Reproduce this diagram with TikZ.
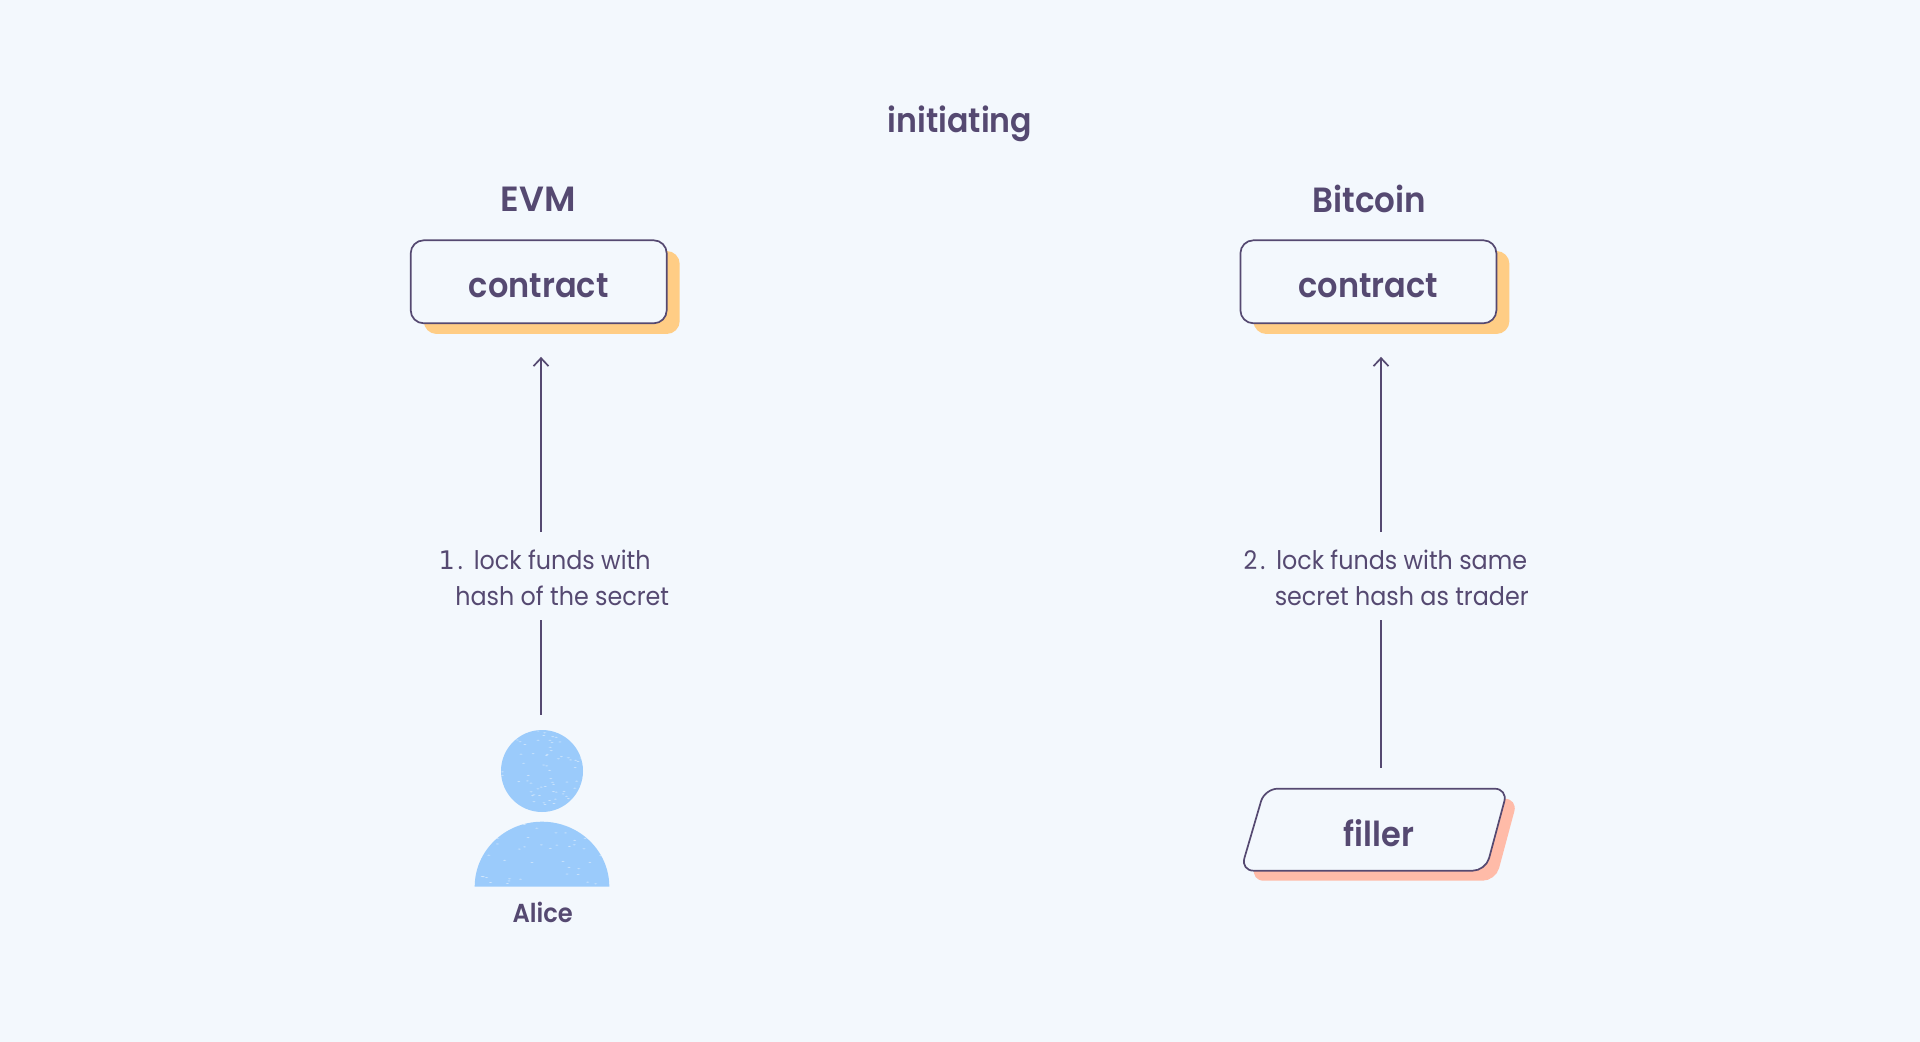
\documentclass[tikz,border=0pt]{standalone}
\usepackage{fontspec}
\setmainfont[FakeStretch=.93]{Poppins}
\newfontfamily\medfont[FakeStretch=.93]{Poppins Medium}
\newfontfamily\boldfont[FakeStretch=.93]{Poppins SemiBold}
\newfontfamily\widefont{Poppins SemiBold}
\newfontfamily\numfont{DejaVu Sans}
\usetikzlibrary{arrows.meta,calc,positioning}
\definecolor{paper}{HTML}{F3F8FD}
\definecolor{ink}{HTML}{554971}
\definecolor{peach}{HTML}{FFCD85}
\definecolor{salmon}{HTML}{FFBBA8}
\definecolor{sky}{HTML}{9BCBFB}
\newdimen\pxdim
\pxdim=.5pt
\tikzstyle{heading}=[
  text=ink,
  font={\fontsize{17.5}{22}\boldfont},
  inner sep=0pt,
]
\tikzstyle{element}=[
  draw=ink,
  fill=paper,
  text=ink,
  font={\fontsize{17.2}{22}\boldfont},
  inner sep=0pt,
  line width=.85pt,
  minimum height=83\pxdim,
  minimum width=256\pxdim,
  outer sep=0pt,
  rectangle,
  rounded corners=6.5pt,
  text height=15.4pt,
  text depth=0pt,
]
\tikzstyle{backing}=[
  fill=peach,
  inner sep=0pt,
  minimum height=83\pxdim,
  minimum width=256\pxdim,
  rectangle,
  rounded corners=6.5pt,
]
\tikzstyle{lockfunds}=[
  align=center,
  text=ink,
  font={\fontsize{12.8}{18}\selectfont},
  inner sep=0pt,
  minimum height=88\pxdim,
  outer sep=0pt,
]
\tikzstyle{arrow}=[
  draw=ink,
  line width=.85pt,
]
\tikzstyle{fleck}=[
  fill=paper,
  opacity=.55,
]
\newcommand{\skewbox}{
  (-109.3,-41) -- (133.7,-41) -- (111.7,41) -- (-133.3,41) -- cycle
}
\tikzset{
  x=\pxdim,
  y=-\pxdim,
  >={Straight Barb[length=4pt,width=7.5pt]},
}
\begin{document}
\begin{tikzpicture}
  \useasboundingbox [fill=paper] (0,0) rectangle (1920,1042);
  %% headings
  \node (initiating) [heading, font={\fontsize{17}{22}\boldfont}] at (960,124) {initiating};
  \node (evm) [heading, font={\fontsize{17.5}{22}\widefont}] at (538.2,199) {EVM};
  \node (bitcoin) [heading] at (1369.5,199) {Bitcoin};
  %% contracts
  \node (evmbacking) [backing] at (551.7,292.5) {};
  \node (evmcontract) [element] at (538.7,281.8) {contract};
  \node (btcbacking) [backing] at (1381.4,292.5) {};
  \node (btccontract) [element] at (1368.4,281.8) {contract};
  %% alice
  \node (alicehead) [circle, fill=sky, minimum size=82\pxdim, inner sep=0pt, outer sep=0pt] at (542,771) {};
  \coordinate (alicebody) at (542,886.7);
  \fill [sky] (alicebody) ++(-67.3,0) arc [start angle=180, end angle=360, x radius=67.3, y radius=65] -- cycle;
  \begin{scope}
    \clip (alicehead.center) circle (41);
    \pgfmathsetseed{11}
    \foreach \i in {1,...,70} {
      \fill [fleck] ($(alicehead.center)+(rand*40,rand*40)$) ellipse (1.6 and .5);
    }
  \end{scope}
  \begin{scope}
    \clip (alicebody) ++(-67.3,0) arc [start angle=180, end angle=360, x radius=67.3, y radius=65] -- cycle;
    \pgfmathsetseed{5}
    \foreach \i in {1,...,50} {
      \fill [fleck] ($(alicebody)+(rand*66,-32+rand*32)$) ellipse (1.6 and .5);
    }
  \end{scope}
  \node (alice) [heading, font={\fontsize{13}{16}\boldfont}] at (542.7,912) {Alice};
  %% filler
  \coordinate (fillerbox) at (1374,829.7);
  \fill [salmon, rounded corners=6.5pt, shift={($(fillerbox)+(10,10)$)}] \skewbox;
  \draw [arrow, fill=paper, rounded corners=6.5pt, shift={(fillerbox)}] \skewbox;
  \node (filler) [text=ink, font={\fontsize{17.2}{22}\boldfont}, minimum height=82\pxdim, text height=16.5pt, text depth=0pt, inner sep=0pt, outer sep=0pt] at (1378.8,829.7) {filler};
  %% labels
  \node (lockone) [lockfunds] at (562.2,578) {\llap{{\numfont 1}\kern1.5pt.\hspace{5.5pt}}lock funds with\\hash of the secret};
  \node (locktwo) [lockfunds] at (1401.7,578) {\llap{2\kern1.5pt.\hspace{5.5pt}}lock funds with same\\secret hash as trader};
  %% connectors
  \coordinate (evmline) at (541,0);
  \coordinate (btcline) at (1381,0);
  \coordinate (lockgap) at (0,532);
  \coordinate (lockfoot) at (0,620);
  \draw [arrow, shorten <=7.6pt] (alicehead.north -| evmline) -- (evmline |- lockfoot);
  \draw [->, arrow, shorten >=16.8pt] (evmline |- lockgap) -- (evmcontract.south -| evmline);
  \draw [arrow, shorten <=10.5pt] (filler.north -| btcline) -- (btcline |- lockfoot);
  \draw [->, arrow, shorten >=16.8pt] (btcline |- lockgap) -- (btccontract.south -| btcline);
\end{tikzpicture}
\end{document}
